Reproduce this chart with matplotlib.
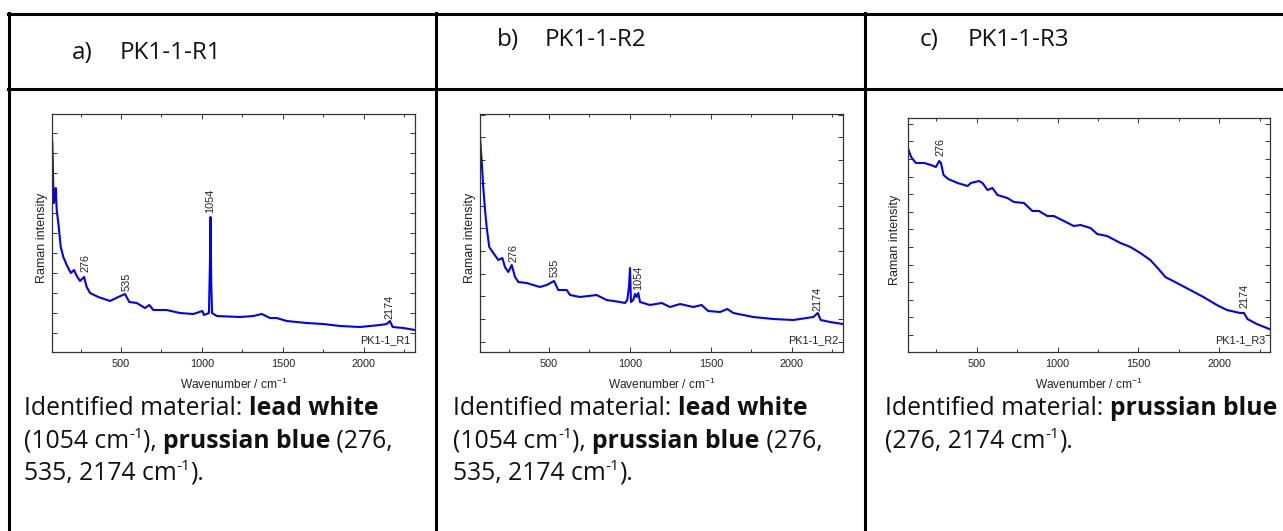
"""Three Raman spectra laid out in a bordered table with captions."""

import matplotlib

matplotlib.use("Agg")
import matplotlib.pyplot as plt
from matplotlib.lines import Line2D
from matplotlib.ticker import MultipleLocator
import numpy as np

W, H = 1283, 531

# ---- spectrum a) PK1-1-R1 (wavenumber / cm-1, intensity in arbitrary units)
WN_A = [76, 82, 86, 93, 97, 103, 113, 128, 144, 165, 190, 210, 227, 247, 272, 288,
        309, 360, 432, 483, 525, 551, 597, 648, 675, 699, 782, 864, 946, 1002, 1012,
        1043, 1049, 1053, 1057, 1062, 1091, 1235, 1317, 1369, 1420, 1461, 1523, 1646,
        1749, 1852, 1975, 2099, 2140, 2160, 2177, 2243, 2315]
INT_A = [210, 165, 149, 159, 164, 142, 129, 105, 95, 87, 79, 82, 76, 71, 75, 65,
         59, 55, 51, 55, 58, 50, 49, 44, 47, 42, 42, 39, 38, 41, 37,
         39, 90, 135, 70, 39, 36, 35, 36, 38, 34, 34, 31, 29,
         28, 26, 25, 27, 28, 31, 25, 24, 22]
PEAK_POS_A = [278, 537, 1053, 2160]
PEAK_TXT_A = ["276", "535", "1054", "2174"]
PEAK_LBL_Y_A = [80, 61, 139, 33]

# ---- spectrum b) PK1-1-R2
WN_B = [74, 85, 94, 105, 115, 131, 156, 187, 212, 228, 249, 270, 290, 311, 362, 444,
        486, 531, 557, 609, 630, 691, 794, 856, 938, 969, 983, 994, 1000, 1006, 1020,
        1031, 1041, 1051, 1062, 1123, 1196, 1247, 1309, 1391, 1442, 1483, 1556, 1601,
        1638, 1761, 1885, 2008, 2091, 2132, 2159, 2177, 2235, 2313]
INT_B = [215, 189, 165, 142, 125, 105, 99, 92, 94, 85, 80, 87, 75, 70, 69, 65,
         67, 71, 62, 62, 57, 55, 57, 52, 50, 49, 52, 65, 84, 50, 52,
         58, 55, 59, 50, 47, 49, 45, 48, 45, 47, 41, 40, 43,
         39, 35, 33, 32, 34, 35, 39, 32, 30, 28]
PEAK_POS_B = [280, 537, 1050, 2160]
PEAK_TXT_B = ["276", "535", "1054", "2174"]
PEAK_LBL_Y_B = [90, 75, 62, 41]

# ---- spectrum c) PK1-1-R3
WN_C = [78, 93, 123, 175, 216, 247, 267, 278, 294, 323, 381, 443, 463, 514, 535, 566,
        597, 628, 689, 730, 792, 844, 885, 936, 977, 1039, 1100, 1142, 1204, 1245,
        1307, 1389, 1451, 1512, 1574, 1625, 1667, 1739, 1821, 1903, 1986, 2048, 2130,
        2154, 2175, 2233, 2311]
INT_C = [202, 195, 189, 189, 187, 185, 191, 189, 177, 173, 169, 166, 169, 171, 169, 162,
         164, 157, 154, 150, 149, 141, 141, 136, 136, 131, 126, 127, 124, 118,
         116, 109, 105, 99, 92, 83, 75, 69, 62, 55, 47, 42, 39,
         39, 33, 28, 23]
PEAK_POS_C = [278, 2160]
PEAK_TXT_C = ["276", "2174"]
PEAK_LBL_Y_C = [196, 44]

HEADERS = [("a)", "PK1-1-R1"), ("b)", "PK1-1-R2"), ("c)", "PK1-1-R3")]
SAMPLE_TAGS = ["PK1-1_R1", "PK1-1_R2", "PK1-1_R3"]

# caption runs: (text, style) with style r=regular, b=bold, s=superscript
CAPTION_AB = [
    [("Identified material: ", "r"), ("lead white", "b")],
    [("(1054 cm", "r"), ("-1", "s"), ("), ", "r"), ("prussian blue", "b"), (" (276,", "r")],
    [("535, 2174 cm", "r"), ("-1", "s"), (").", "r")],
]
CAPTION_C = [
    [("Identified material: ", "r"), ("prussian blue", "b")],
    [("(276, 2174 cm", "r"), ("-1", "s"), (").", "r")],
]

BLUE = "#0000FF"
FRAME = "#333333"
SANS = ["Liberation Sans", "DejaVu Sans"]
BODY = ["Open Sans", "DejaVu Sans"]

plt.rcParams.update({"mathtext.default": "regular", "font.family": SANS})

fig = plt.figure(figsize=(W / 100, H / 100), dpi=100)
renderer = fig.canvas.get_renderer()


def fx(x):
    return x / W


def fy(y):
    return 1 - y / H


# table rules
for y in (14, 89):
    fig.add_artist(Line2D([fx(8), 1], [fy(y), fy(y)], color="black", lw=2.2))
for x in (9, 436, 865):
    fig.add_artist(Line2D([fx(x), fx(x)], [fy(13), 0], color="black", lw=2.2))


def text_width(s, **kw):
    t = fig.text(0, 0, "|" + s + "|", **kw)
    w = t.get_window_extent(renderer).width
    t.remove()
    t = fig.text(0, 0, "||", **kw)
    w0 = t.get_window_extent(renderer).width
    t.remove()
    return w - w0


def draw_runs(x, y, runs, size):
    cx = x
    for txt, style in runs:
        kw = dict(family=BODY, fontsize=size, fontweight="bold" if style == "b" else "normal")
        dy = 0
        if style == "s":
            kw["fontsize"] = size * 0.62
            dy = size * 0.55
        fig.text(fx(cx), fy(y - dy), txt, ha="left", va="baseline", color="#111111", **kw)
        cx += text_width(txt, **kw)


spectra = [
    (WN_A, INT_A, PEAK_POS_A, PEAK_TXT_A, PEAK_LBL_Y_A),
    (WN_B, INT_B, PEAK_POS_B, PEAK_TXT_B, PEAK_LBL_Y_B),
    (WN_C, INT_C, PEAK_POS_C, PEAK_TXT_C, PEAK_LBL_Y_C),
]
boxes = [(52, 415, 114), (480, 843, 114), (908, 1270, 118)]
ytick_step = [20, 22.7, 17.6]
ytick_first = [18.7, 10.3, 17.0]
ylab_off = [-0.010, -0.010, -0.018]
header_pos = [(72, 59), (497, 46), (920, 46)]
text_x = [24, 453, 885]
captions = [CAPTION_AB, CAPTION_AB, CAPTION_C]

for i, (wn, inten, ppos, ptxt, plbl) in enumerate(spectra):
    left, right, top = boxes[i]
    bottom = 352
    ax = fig.add_axes([fx(left), fy(bottom), (right - left) / W, (bottom - top) / H])
    ax.plot(wn, inten, color=BLUE, lw=1.5)
    ax.set_xlim(74, 2315)
    ax.set_ylim(0, bottom - top)
    for p, s, ly in zip(ppos, ptxt, plbl):
        ax.text(p, ly, s, rotation=90, ha="center", va="bottom", fontsize=7.8, color="#222222")
    ax.text(0.988, 0.039, SAMPLE_TAGS[i], transform=ax.transAxes, ha="right", va="baseline",
            fontsize=7.8, color="#222222")

    ax.xaxis.set_major_locator(MultipleLocator(500))
    ax.xaxis.set_minor_locator(MultipleLocator(250))
    ax.set_yticks(np.arange(ytick_first[i], bottom - top, ytick_step[i]))
    ax.tick_params(which="both", direction="in", top=True, right=True, colors=FRAME,
                   labelsize=7.8, pad=5, width=0.7)
    ax.tick_params(which="major", length=3.5)
    ax.tick_params(which="minor", length=2.5)
    ax.tick_params(axis="y", labelleft=False)
    ax.tick_params(axis="x", labelcolor="#222222")
    for sp in ax.spines.values():
        sp.set_color(FRAME)
        sp.set_linewidth(0.9)

    ax.set_xlabel("Wavenumber / cm$^{-1}$", fontsize=8.6, color="#222222")
    ax.xaxis.set_label_coords(0.5, -0.105)
    ax.set_ylabel("Raman intensity", fontsize=9, color="#222222")
    ax.yaxis.set_label_coords(ylab_off[i], 0.48)

    hx, hy = header_pos[i]
    fig.text(fx(hx), fy(hy), HEADERS[i][0], family=BODY, fontsize=17.5, va="baseline",
             color="#111111")
    fig.text(fx(hx + 48), fy(hy), HEADERS[i][1], family=BODY, fontsize=17.5, va="baseline",
             color="#111111")

    for k, runs in enumerate(captions[i]):
        draw_runs(text_x[i], 415 + 32.5 * k, runs, 17.8)

fig.savefig("out.png", dpi=100)
